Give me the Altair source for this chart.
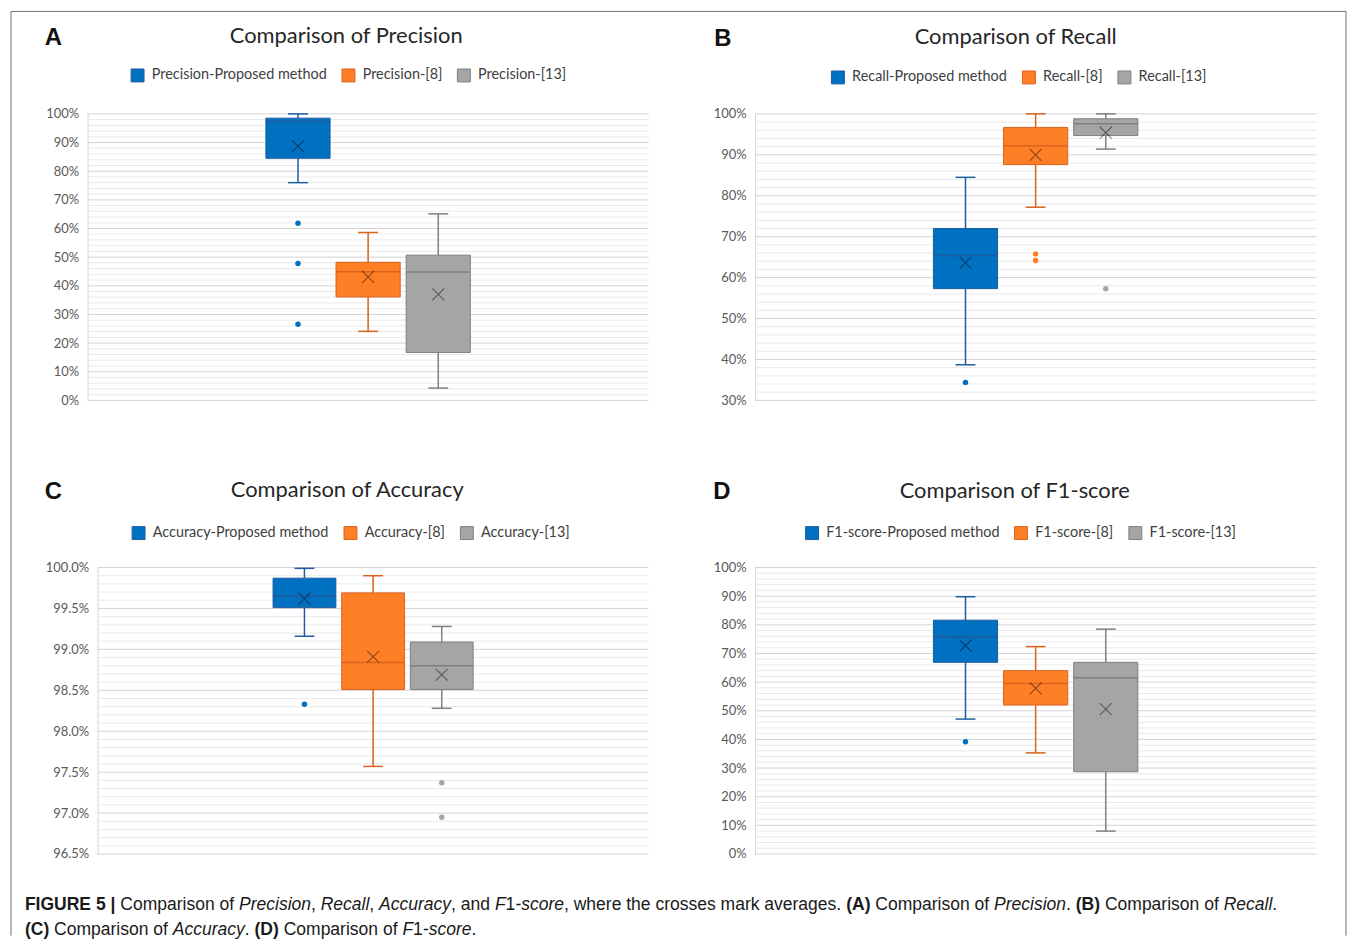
import altair as alt
import pandas as pd

# ---------------- data (percent values) ----------------
SERIES = ["Proposed method", "[8]", "[13]"]
FILL = ["#0070C0", "#FF7F27", "#A5A5A5"]
LINE = ["#1F5C9E", "#D9621C", "#7F7F7F"]

# Precision
prec_low = [76.0, 24.1, 4.3]
prec_q1 = [84.5, 36.1, 16.7]
prec_median = [97.3, 44.9, 44.8]
prec_q3 = [98.5, 48.2, 50.7]
prec_high = [100.0, 58.6, 65.1]
prec_mean = [88.7, 43.1, 37.0]
prec_out_idx = [0, 0, 0]
prec_out_val = [61.8, 47.8, 26.6]

# Recall
rec_low = [38.7, 77.2, 91.4]
rec_q1 = [57.3, 87.6, 94.7]
rec_median = [65.4, 92.2, 97.6]
rec_q3 = [72.0, 96.7, 98.8]
rec_high = [84.5, 100.0, 100.0]
rec_mean = [63.6, 90.0, 95.4]
rec_out_idx = [0, 1, 1, 2]
rec_out_val = [34.4, 65.8, 64.2, 57.3]

# Accuracy
acc_low = [99.16, 97.57, 98.28]
acc_q1 = [99.51, 98.51, 98.51]
acc_median = [99.65, 98.84, 98.80]
acc_q3 = [99.87, 99.69, 99.09]
acc_high = [99.99, 99.90, 99.28]
acc_mean = [99.62, 98.91, 98.69]
acc_out_idx = [0, 2, 2]
acc_out_val = [98.33, 97.37, 96.95]

# F1-score
f1_low = [47.1, 35.3, 8.0]
f1_q1 = [66.9, 52.0, 28.7]
f1_median = [75.8, 59.5, 61.5]
f1_q3 = [81.6, 64.0, 66.9]
f1_high = [89.8, 72.4, 78.5]
f1_mean = [72.7, 57.8, 50.6]
f1_out_idx = [0]
f1_out_val = [39.2]

# caption segments: (text, style)  n=normal, i=italic, b=bold
cap_line1 = [("FIGURE 5 |", "b"), (" Comparison of ", "n"), ("Precision", "i"), (", ", "n"),
             ("Recall", "i"), (", ", "n"), ("Accuracy", "i"), (", and ", "n"), ("F", "i"),
             ("1", "n"), ("-score", "i"), (", where the crosses mark averages. ", "n"),
             ("(A)", "b"), (" Comparison of ", "n"), ("Precision", "i"), (". ", "n"),
             ("(B)", "b"), (" Comparison of ", "n"), ("Recall", "i"), (".", "n")]
cap_line2 = [("(C)", "b"), (" Comparison of ", "n"), ("Accuracy", "i"), (". ", "n"),
             ("(D)", "b"), (" Comparison of ", "n"), ("F", "i"), ("1", "n"),
             ("-score", "i"), (".", "n")]

# ---------------- styling ----------------
FONT = "Lato"
CAP_FONT = "Liberation Sans"
CAP_SIZE = 17.6
FRAME = "#707070"
DUMMY = pd.DataFrame({"k": [0]})
X_PATH = "M-1,-1L1,1M-1,1L1,-1"
PW = 564
PH = 288
P_IN = 0.085

# Arial-compatible advance widths (1/1000 em) for caption layout
_reg = {" ": 278, ",": 278, ".": 278, "-": 333, "(": 333, ")": 333, "|": 260,
        "A": 667, "B": 667, "C": 722, "D": 722, "E": 667, "F": 611, "G": 778, "I": 278,
        "P": 667, "R": 722, "U": 722,
        "a": 556, "b": 556, "c": 500, "d": 556, "e": 556, "f": 278, "g": 556, "h": 556,
        "i": 222, "k": 500, "l": 222, "m": 833, "n": 556, "o": 556, "p": 556, "r": 333,
        "s": 500, "t": 278, "u": 556, "v": 500, "w": 722, "y": 500}
_bold = {" ": 278, "(": 333, ")": 333, "|": 280, "A": 722, "B": 722, "C": 722, "D": 722,
         "E": 667, "F": 611, "G": 778, "I": 278, "R": 722, "U": 722}


def _w(s, style):
    tab = _bold if style == "b" else _reg
    return sum(tab.get(ch, 556) for ch in s) / 1000.0 * CAP_SIZE


def caption_layers(x0, y_lines):
    rows = []
    for segs, yb in zip([cap_line1, cap_line2], y_lines):
        x = x0
        for txt, st in segs:
            lead = len(txt) - len(txt.lstrip(" "))
            core = txt.strip(" ")
            if core:
                rows.append({"t": core, "x": x + _w(" " * lead, st), "y": yb, "s": st})
            x += _w(txt, st)
    df = pd.DataFrame(rows)
    layers = []
    for st, kw in [("n", {}), ("i", {"fontStyle": "italic"}), ("b", {"fontWeight": "bold"})]:
        sub = df[df["s"] == st]
        layers.append(
            alt.Chart(sub).mark_text(align="left", baseline="alphabetic", font=CAP_FONT,
                                     fontSize=CAP_SIZE, color="#1a1a1a", **kw)
            .encode(x=alt.X("x:Q", scale=None), y=alt.Y("y:Q", scale=None), text="t:N")
        )
    return layers


def deco_text(text, x, y, **kw):
    return alt.Chart(DUMMY).mark_text(text=text, baseline="alphabetic", **kw).encode(
        x=alt.value(x), y=alt.value(y))


def rule(x, y, x2=None, y2=None):
    enc = {"x": alt.value(x), "y": alt.value(y)}
    if x2 is not None:
        enc["x2"] = alt.value(x2)
    if y2 is not None:
        enc["y2"] = alt.value(y2)
    return alt.Chart(DUMMY).mark_rule(color=FRAME, strokeWidth=1).encode(**enc)


def panel(metric, low, q1, med, q3, high, mean, out_idx, out_val, ymin, ymax, minor, ratio,
          decimals, inset, step, legend_xy, letter, letter_xy, title_xy, extra=()):
    labels = [f"{metric}-{s}" for s in SERIES]
    box = pd.DataFrame({"label": labels, "low": low, "q1": q1, "median": med, "q3": q3,
                        "high": high, "mean": mean})
    outs = pd.DataFrame({"label": [labels[i] for i in out_idx], "value": out_val})
    n = round((ymax - ymin) / minor)
    ticks = [round(ymin + i * minor, 3) for i in range(n + 1)]
    majors = [t for i, t in enumerate(ticks) if i % ratio == 0]
    minors = [t for i, t in enumerate(ticks) if i % ratio != 0]
    width = PW - inset
    group = step * (3 - P_IN)
    r0 = inset + (width - group) / 2.0
    bw = step * (1 - P_IN)

    x = alt.X("label:N", sort=labels, axis=None,
              scale=alt.Scale(range=[r0, r0 + group], paddingInner=P_IN, paddingOuter=0))
    yscale = alt.Scale(domain=[ymin, ymax], nice=False, zero=False)
    yaxis = alt.Axis(values=majors, tickCount=len(majors), title=None, ticks=False,
                     grid=False, offset=-inset, domainColor="#d4d4d4", domainWidth=1,
                     labelExpr=f"format(datum.value, '.{decimals}f') + '%'",
                     labelOverlap=False, labelBound=False, labelFont=FONT, labelFontSize=13,
                     labelColor="#595959", labelPadding=9)

    def Y(field):
        return alt.Y(field, scale=yscale, axis=yaxis)

    legend = alt.Legend(orient="none", legendX=legend_xy[0], legendY=legend_xy[1],
                        direction="horizontal", columns=3, title=None, symbolType="square",
                        symbolSize=169, symbolStrokeWidth=1, symbolOpacity=1,
                        labelFont=FONT, labelFontSize=14.5, labelColor="#404040",
                        labelLimit=400, columnPadding=12, labelOffset=7)
    fill = alt.Fill("label:N", sort=labels, scale=alt.Scale(domain=labels, range=FILL),
                    legend=legend)
    stroke = alt.Stroke("label:N", sort=labels, scale=alt.Scale(domain=labels, range=LINE),
                        legend=legend)
    color = alt.Color("label:N", sort=labels, scale=alt.Scale(domain=labels, range=LINE),
                      legend=None)

    gminor = pd.DataFrame({"v": minors})
    gmajor = pd.DataFrame({"v": majors})
    base = alt.Chart(box).encode(x=x)
    layers = [
        alt.Chart(gminor).mark_rule(color="#e9e9e9", strokeWidth=1).encode(
            y=Y("v:Q"), x=alt.value(inset), x2=alt.value(PW)),
        alt.Chart(gmajor).mark_rule(color="#d4d4d4", strokeWidth=1).encode(
            y=Y("v:Q"), x=alt.value(inset), x2=alt.value(PW)),
        base.mark_bar(strokeWidth=1).encode(y=Y("q1:Q"), y2="q3:Q", fill=fill, stroke=stroke),
        base.mark_tick(size=bw, thickness=1.5, opacity=1).encode(y=Y("median:Q"), color=color),
        base.mark_rule(strokeWidth=1.5).encode(y=Y("low:Q"), y2="q1:Q", color=color),
        base.mark_rule(strokeWidth=1.5).encode(y=Y("q3:Q"), y2="high:Q", color=color),
        base.mark_tick(size=20, thickness=1.5, opacity=1).encode(y=Y("low:Q"), color=color),
        base.mark_tick(size=20, thickness=1.5, opacity=1).encode(y=Y("high:Q"), color=color),
        base.mark_point(shape=X_PATH, size=144, strokeWidth=1.1, filled=False, opacity=0.45,
                        color="#000000").encode(y=Y("mean:Q")),
        alt.Chart(outs).mark_circle(size=30, opacity=1).encode(
            x=x, y=Y("value:Q"), fill=alt.Fill("label:N", sort=labels)),
        deco_text(letter, letter_xy[0], letter_xy[1], align="left", font="Liberation Sans",
                  fontWeight="bold", fontSize=24, color="#111111"),
        deco_text(f"Comparison of {metric}", title_xy[0], title_xy[1], align="center",
                  font=FONT, fontSize=22, color="#262626"),
    ]
    layers += list(extra)
    return alt.layer(*layers).properties(width=PW, height=PH)


frame = [rule(-77, -103, x2=1265), rule(-77, -103, y2=826), rule(1265, -103, y2=826)]

pA = panel("Precision", prec_low, prec_q1, prec_median, prec_q3, prec_high, prec_mean,
           prec_out_idx, prec_out_val, 0, 100, 2, 5, 0, 0, 70.5, (43, -46), "A", (-43, -69),
           (260, -71), extra=frame)
pB = panel("Recall", rec_low, rec_q1, rec_median, rec_q3, rec_high, rec_mean,
           rec_out_idx, rec_out_val, 30, 100, 2, 5, 0, 0, 70.5, (76, -44), "B", (-41, -68),
           (262, -70))
pC = panel("Accuracy", acc_low, acc_q1, acc_median, acc_q3, acc_high, acc_mean,
           acc_out_idx, acc_out_val, 96.5, 100, 0.1, 5, 1, 10, 69, (44, -42), "C", (-43, -69),
           (261, -71), extra=caption_layers(-63, [344, 369]))
pD = panel("F1-score", f1_low, f1_q1, f1_median, f1_q3, f1_high, f1_mean,
           f1_out_idx, f1_out_val, 0, 100, 2, 5, 0, 0, 70.5, (50, -42), "D", (-42, -69),
           (261, -70))

chart = (
    alt.concat(pA, pB, pC, pD, columns=2, spacing={"row": 168, "column": 107},
               bounds="flush")
    .resolve_scale(x="independent", y="independent", fill="independent",
                   stroke="independent", color="independent")
    .resolve_legend(fill="independent", stroke="independent", color="independent")
    .properties(padding={"left": 2, "top": 0, "right": 0, "bottom": 0}, background="white")
    .configure_view(stroke=None)
)

chart.save("out.html", embed_options={"renderer": "svg", "actions": False})
